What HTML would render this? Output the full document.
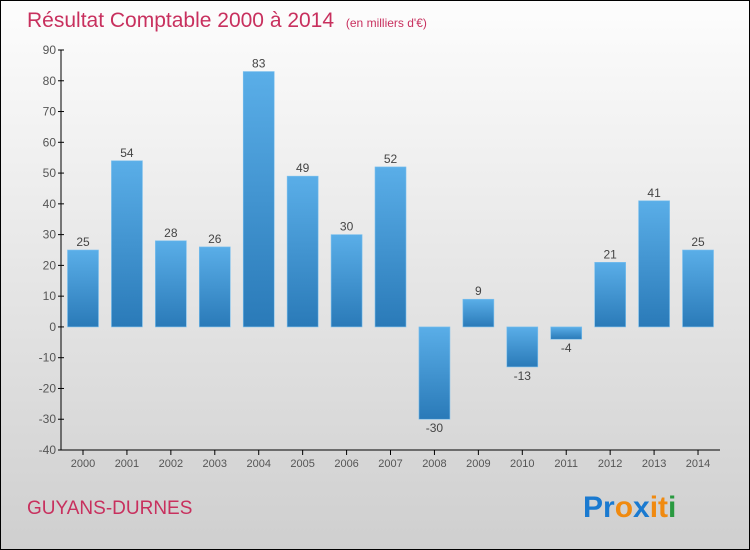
<!DOCTYPE html>
<html><head><meta charset="utf-8"><style>
body{margin:0;width:750px;height:550px;overflow:hidden;font-family:"Liberation Sans",sans-serif}
#c{position:absolute;left:0;top:0;width:748px;height:548px;border:1px solid #000;background:linear-gradient(#fdfdfd,#cfcfcf)}
</style></head><body>
<div id="c">
<svg width="750" height="550" style="position:absolute;left:-1px;top:-1px" id="svg">
<defs><linearGradient id="g" x1="0" y1="0" x2="0" y2="1"><stop offset="0" stop-color="#5aaee8"/><stop offset="1" stop-color="#2a7ab8"/></linearGradient></defs>
<text x="27" y="27" font-size="21" fill="#c8305e">Résultat Comptable 2000 à 2014 <tspan font-size="12" dx="6">(en milliers d'€)</tspan></text>
<text x="27" y="514" font-size="19" fill="#c8305e">GUYANS-DURNES</text>
<text x="583" y="517" font-size="30" font-weight="bold"><tspan fill="#1a7ad0">Pr</tspan><tspan fill="#f08a10">o</tspan><tspan fill="#1a7ad0">x</tspan><tspan fill="#f08a10">i</tspan><tspan fill="#f08a10">t</tspan><tspan fill="#2a9a40">i</tspan></text>
<g id="plot"></g>
</svg></div>
<script>
const years=["2000","2001","2002","2003","2004","2005","2006","2007","2008","2009","2010","2011","2012","2013","2014"];
const values=[25,54,28,26,83,49,30,52,-30,9,-13,-4,21,41,25];
const ticks=[90,80,70,60,50,40,30,20,10,0,-10,-20,-30,-40];
const NS="http://www.w3.org/2000/svg",g=document.getElementById('plot');
const y=v=>450-(v+40)*400/130, x=i=>83+i*43.93;
function el(t,a,txt){const e=document.createElementNS(NS,t);for(const k in a)e.setAttribute(k,a[k]);if(txt!==undefined)e.textContent=txt;g.appendChild(e);return e;}
let e=el('line',{x1:61,y1:50,x2:61,y2:450,stroke:'#000'});


e=el('line',{x1:61,y1:450,x2:720,y2:450,stroke:'#000'});


ticks.forEach(t=>{
 el('line',{x1:58,y1:y(t),x2:64,y2:y(t),stroke:'#000'});
 e=el('text',{x:56,y:y(t)+4,'font-size':12,fill:'#555','text-anchor':'end'},t);
 
 
});
years.forEach((yr,i)=>{
 const v=values[i],top=Math.min(y(v),y(0)),h=Math.abs(y(v)-y(0));
 el('line',{x1:x(i),y1:450,x2:x(i),y2:455,stroke:'#000'});
 e=el('text',{x:x(i),y:467,'font-size':11,fill:'#555','text-anchor':'middle'},yr);
 
 
 e=el('rect',{x:x(i)-15.5,y:top,width:31,height:h,fill:'url(#g)',stroke:'#7cc0ee','stroke-width':0.6});
 
 
 e=el('text',{x:x(i),y:v>=0?y(v)-4:y(v)+13,'font-size':12,fill:'#444','text-anchor':'middle'},v);
 
 
});
</script>
</body></html>
